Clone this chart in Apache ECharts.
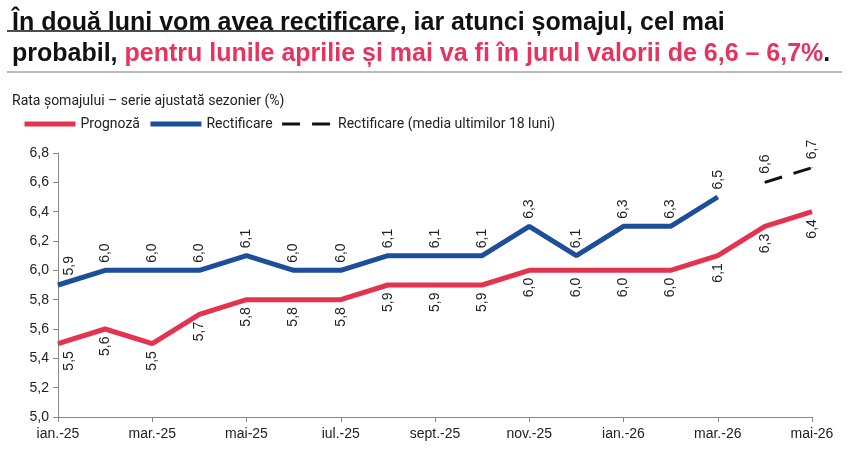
<!DOCTYPE html>
<html><head><meta charset="utf-8">
<script src="https://cdn.jsdelivr.net/npm/echarts@6/dist/echarts.min.js"></script>
<style>html,body{margin:0;padding:0;background:#fff}#c{width:850px;height:451px}</style>
</head><body><div id="c"></div>
<script>
const months = ['ian.-25','feb.-25','mar.-25','apr.-25','mai-25','iun.-25','iul.-25','aug.-25','sept.-25','oct.-25','nov.-25','dec.-25','ian.-26','feb.-26','mar.-26','apr.-26','mai-26'];
const prognoza = [5.5,5.6,5.5,5.7,5.8,5.8,5.8,5.9,5.9,5.9,6.0,6.0,6.0,6.0,6.1,6.3,6.4];
const rectificare = [5.9,6.0,6.0,6.0,6.1,6.0,6.0,6.1,6.1,6.1,6.3,6.1,6.3,6.3,6.5,null,null];
const media18 = [null,null,null,null,null,null,null,null,null,null,null,null,null,null,null,6.6,6.7];
const yTicks = {min:5.0, max:6.8, step:0.2};

const RED = '#E3334F', BLUE = '#1C4E9A';
const fmt = v => (typeof v === 'number' ? v : v.value).toFixed(1).replace('.', ',');
const lblFmt = p => p.value == null ? '' : fmt(p.value);
const FONT = 'Liberation Sans';
const TFONT = 'Liberation Sans';
const TSIZE = 25;
// first label of each series is nudged right (off the y-axis), as in the reference
// (labels are rotated 90°, so the local y offset moves them to the right)
const nudgeFirst = (arr, dy) => arr.map((v, i) => i === 0 ? {value: v, label: {offset: [dy, 11]}} : v);

const underlineText = 'În două luni vom avea rectificare';
const cv = document.createElement('canvas').getContext('2d');
cv.font = 'bold ' + TSIZE + 'px "' + TFONT + '"';
const ulW = cv.measureText(underlineText).width;

const chart = echarts.init(document.getElementById('c'));
chart.setOption({
  animation: false,
  backgroundColor: '#fff',
  title: [{
    left: 7, top: 3,
    text: '{b|' + underlineText + '}{b|, iar atunci șomajul, cel mai}\n{b|probabil, }{r|pentru lunile aprilie și mai va fi în jurul valorii de 6,6 – 6,7%}{b|.}',
    textStyle: {
      rich: {
        b: {fontFamily: TFONT, fontWeight: 'bold', fontSize: TSIZE, color: '#111', lineHeight: 31},
        r: {fontFamily: TFONT, fontWeight: 'bold', fontSize: TSIZE, color: '#E6335F', lineHeight: 31}
      }
    }
  }, {
    left: 7, top: 89,
    text: 'Rata șomajului – serie ajustată sezonier (%)',
    textStyle: {fontFamily: 'Roboto', fontWeight: 'normal', fontSize: 14, color: '#222'}
  }],
  graphic: [
    {type: 'line', shape: {x1: 7, y1: 72, x2: 842, y2: 72}, style: {stroke: '#777', lineWidth: 1}},
    {type: 'line', shape: {x1: 7, y1: 31, x2: 7 + ulW, y2: 31}, style: {stroke: '#111', lineWidth: 1.5}}
  ],
  legend: {
    left: 17, top: 112,
    itemWidth: 51, itemHeight: 5, itemGap: 8,
    itemStyle: {opacity: 0},
    textStyle: {fontFamily: 'Roboto', fontSize: 14, color: '#222'},
    data: [
      {name: 'Prognoză', lineStyle: {width: 5}},
      {name: 'Rectificare', lineStyle: {width: 5}},
      {name: 'Rectificare (media ultimilor 18 luni)', lineStyle: {width: 3}}
    ]
  },
  grid: {left: 58, right: 38, top: 153, bottom: 34},
  xAxis: {
    type: 'category', data: months, boundaryGap: false,
    axisLine: {lineStyle: {color: '#888', width: 1}},
    axisTick: {show: true, interval: 1, length: 5, lineStyle: {color: '#888'}},
    axisLabel: {interval: 1, color: '#222', fontFamily: FONT, fontSize: 14, margin: 10}
  },
  yAxis: {
    type: 'value', min: yTicks.min, max: yTicks.max, interval: yTicks.step,
    splitLine: {show: false},
    axisLine: {show: true, lineStyle: {color: '#888', width: 1}},
    axisTick: {show: true, length: 5, lineStyle: {color: '#888'}},
    axisLabel: {color: '#222', fontFamily: FONT, fontSize: 14, margin: 9, formatter: v => v.toFixed(1).replace('.', ',')}
  },
  series: [{
    name: 'Prognoză', type: 'line', data: nudgeFirst(prognoza, 0), symbol: 'circle', symbolSize: 1, showSymbol: true,
    lineStyle: {color: RED, width: 5}, itemStyle: {color: RED},
    label: {show: true, position: 'bottom', rotate: 90, align: 'right', verticalAlign: 'middle', distance: 7,
      fontFamily: FONT, fontSize: 14, color: '#222', formatter: lblFmt}
  }, {
    name: 'Rectificare', type: 'line', data: nudgeFirst(rectificare, 2), symbol: 'circle', symbolSize: 1, showSymbol: true,
    lineStyle: {color: BLUE, width: 5}, itemStyle: {color: BLUE},
    label: {show: true, position: 'top', rotate: 90, align: 'left', verticalAlign: 'middle', distance: 7,
      fontFamily: FONT, fontSize: 14, color: '#222', formatter: lblFmt}
  }, {
    name: 'Rectificare (media ultimilor 18 luni)', type: 'line', data: media18, symbol: 'circle', symbolSize: 1, showSymbol: true,
    lineStyle: {color: '#111', width: 3, type: [18, 12]}, itemStyle: {color: '#111'},
    label: {show: true, position: 'top', rotate: 90, align: 'left', verticalAlign: 'middle', distance: 8,
      fontFamily: FONT, fontSize: 14, color: '#222', formatter: lblFmt}
  }]
});
</script></body></html>
